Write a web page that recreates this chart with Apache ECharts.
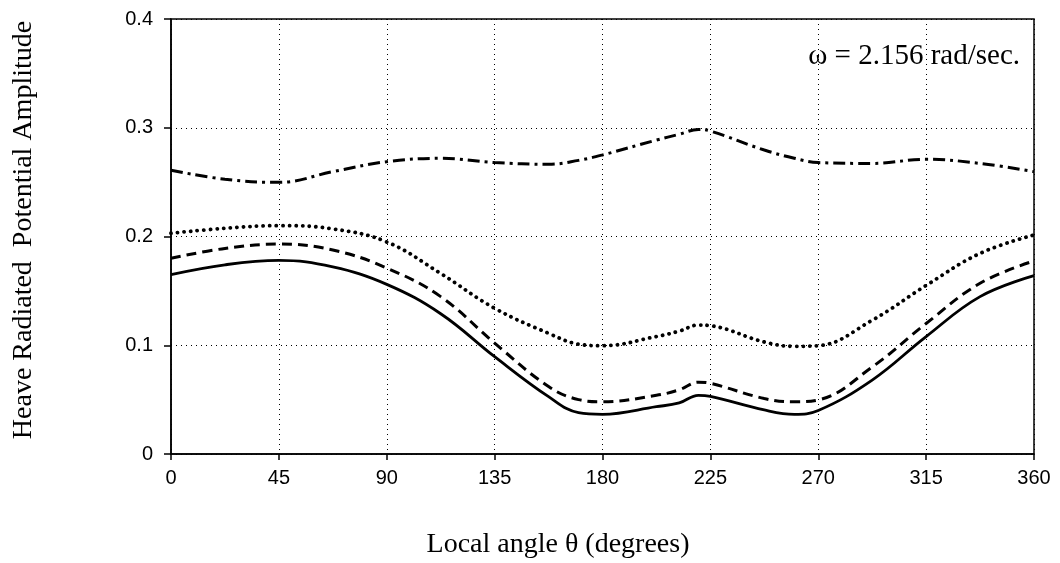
<!DOCTYPE html>
<html>
<head>
<meta charset="utf-8">
<script src="https://cdn.jsdelivr.net/npm/echarts@6/dist/echarts.min.js"></script>
<style>
  html, body { margin: 0; padding: 0; background: #fff; }
  #chart { width: 1060px; height: 563px; }
</style>
</head>
<body>
<div id="chart"></div>
<script>
// local angle theta (degrees)
var angles = [0, 22.5, 45, 67.5, 90, 112.5, 135, 157.5, 170, 180, 202.5, 212, 220, 225, 247.5, 260, 270, 292.5, 315, 337.5, 360];
var xTicks = [0, 45, 90, 135, 180, 225, 270, 315, 360];
var yTicks = [0, 0.1, 0.2, 0.3, 0.4];

// heave radiated potential amplitude, one array per curve
var solidVals = [0.165, 0.174, 0.178, 0.172, 0.156, 0.129, 0.0895, 0.0527, 0.038, 0.0365, 0.0435, 0.047, 0.054, 0.053, 0.0405, 0.0365, 0.040, 0.068, 0.108, 0.1447, 0.164];
var dashVals = [0.180, 0.189, 0.193, 0.1876, 0.171, 0.1447, 0.102, 0.062, 0.050, 0.048, 0.054, 0.059, 0.066, 0.065, 0.051, 0.048, 0.0497, 0.080, 0.120, 0.157, 0.1775];
var dotVals = [0.203, 0.2075, 0.210, 0.207, 0.195, 0.166, 0.134, 0.111, 0.101, 0.0996, 0.108, 0.113, 0.1186, 0.118, 0.103, 0.099, 0.0996, 0.123, 0.155, 0.1845, 0.2014];
var dashDotVals = [0.261, 0.2526, 0.2498, 0.2596, 0.2688, 0.2719, 0.268, 0.2664, 0.270, 0.275, 0.2887, 0.294, 0.2985, 0.297, 0.2795, 0.272, 0.268, 0.2672, 0.271, 0.2672, 0.2596];

function pairs(vals) {
	return angles.map(function(a, i) { return [a, vals[i]]; });
}

var chart = echarts.init(document.getElementById('chart'));

var gridLine = { show: true, lineStyle: { color: '#000', width: 1, type: [1, 4] } };

chart.setOption({
	animation: false,
	backgroundColor: '#fff',
	grid: {
		left: 171, right: 26, top: 19, bottom: 109,
		show: true, borderColor: '#000', borderWidth: 1.5
	},
	xAxis: {
		type: 'value',
		min: 0, max: 360, interval: 45,
		axisLine: { show: true, lineStyle: { color: '#000', width: 1.5 } },
		axisTick: { show: true, length: 6, lineStyle: { color: '#000', width: 1.5 } },
		axisLabel: {
			color: '#000', fontFamily: 'Liberation Sans', fontSize: 20, margin: 14,
			formatter: function(v) { return xTicks.indexOf(v) >= 0 ? String(v) : ''; }
		},
		splitLine: gridLine
	},
	yAxis: {
		type: 'value',
		min: 0, max: 0.4, interval: 0.1,
		axisLine: { show: true, lineStyle: { color: '#000', width: 1.5 } },
		axisTick: { show: true, length: 7, lineStyle: { color: '#000', width: 1.5 } },
		axisLabel: {
			color: '#000', fontFamily: 'Liberation Sans', fontSize: 20, margin: 18,
			formatter: function(v) {
				var i = yTicks.findIndex(function(t) { return Math.abs(t - v) < 1e-9; });
				return i === 0 ? '0' : yTicks[i].toFixed(1);
			}
		},
		splitLine: gridLine
	},
	graphic: [
		{
			type: 'text', x: 1020, y: 56,
			style: { text: 'ω = 2.156 rad/sec.', font: '29px "Liberation Serif"', fill: '#000', align: 'right', verticalAlign: 'middle' }
		},
		{
			type: 'text', x: 558, y: 545,
			style: { text: 'Local angle θ (degrees)', font: '28px "Liberation Serif"', fill: '#000', align: 'center', verticalAlign: 'middle' }
		},
		{
			type: 'text', x: 24, y: 230, rotation: Math.PI / 2,
			style: { text: 'Heave Radiated  Potential Amplitude', font: '28px "Liberation Serif"', fill: '#000', align: 'center', verticalAlign: 'middle' }
		}
	],
	series: [
		{
			name: 'solid', type: 'line', data: pairs(solidVals), smooth: 0.4,
			symbol: 'none', lineStyle: { color: '#000', width: 2.8 }
		},
		{
			name: 'dashed', type: 'line', data: pairs(dashVals), smooth: 0.4,
			symbol: 'none', lineStyle: { color: '#000', width: 3, type: [10, 6] }
		},
		{
			name: 'dotted', type: 'line', data: pairs(dotVals), smooth: 0.4,
			symbol: 'none', lineStyle: { color: '#000', width: 3.8, type: [0.1, 6.5], cap: 'round' }
		},
		{
			name: 'dashdot', type: 'line', data: pairs(dashDotVals), smooth: 0.4,
			symbol: 'none', lineStyle: { color: '#000', width: 3, type: [12, 5, 3, 5] }
		}
	]
});
</script>
</body>
</html>
